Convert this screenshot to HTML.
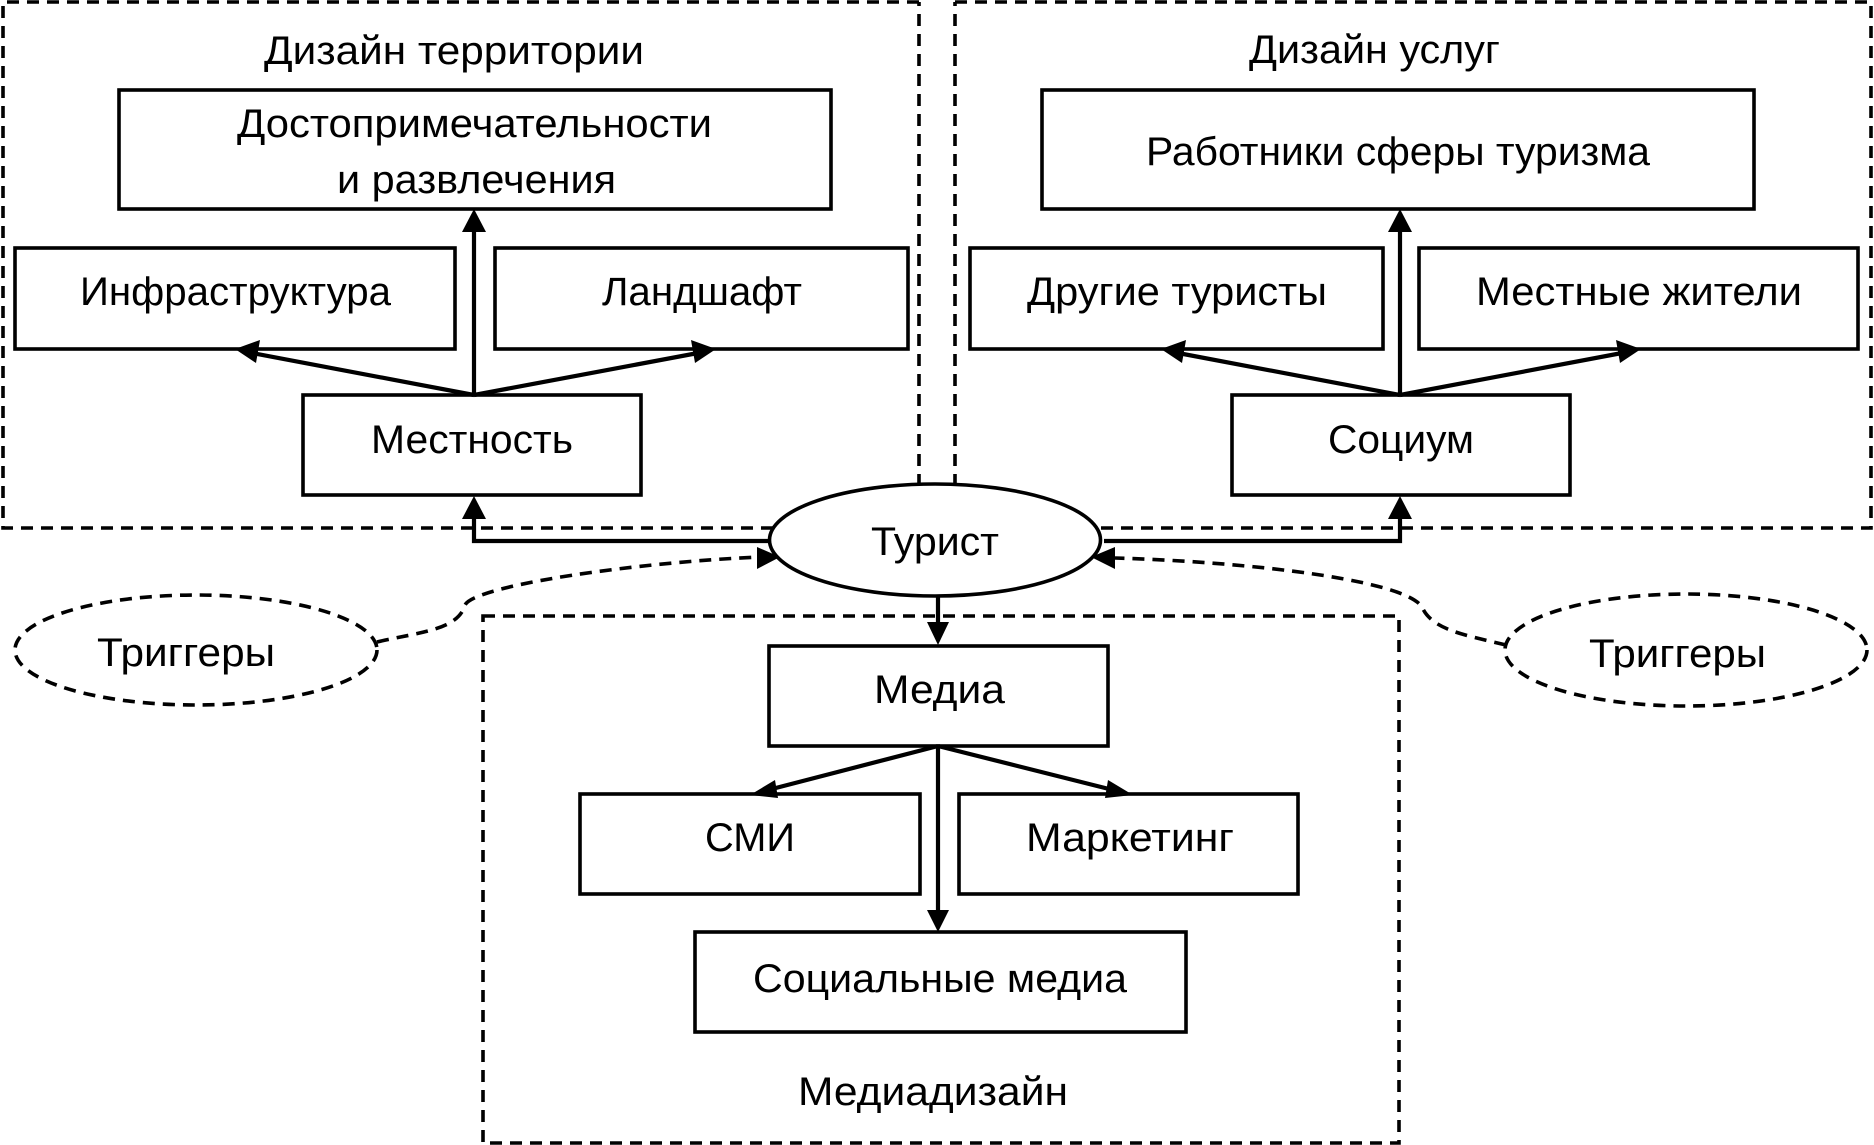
<!DOCTYPE html>
<html><head><meta charset="utf-8"><style>html,body{margin:0;padding:0;background:#fff}svg{display:block}text{font-family:"Liberation Sans",sans-serif;font-size:40px;fill:#000}</style></head>
<body>
<svg width="1874" height="1145" viewBox="0 0 1874 1145" xmlns="http://www.w3.org/2000/svg">
<g fill="none" stroke="#000" stroke-width="3.6" stroke-dasharray="12 8">
<path d="M919 2H3V528H919V2"/>
<path d="M955 2H1871V528H955V2"/>
<rect x="483" y="616" width="916" height="527"/>
<ellipse cx="196" cy="650" rx="181" ry="55"/>
<ellipse cx="1686" cy="650" rx="181" ry="56"/>
<path d="M377 642C420 632 458 630 465 605C475 585 640 562 760 557"/>
<path d="M1506 645C1465 635 1432 630 1422 607C1405 580 1250 562 1115 558"/>
</g>
<g fill="none" stroke="#000" stroke-width="3.6">
<rect x="119" y="90" width="712" height="119"/>
<rect x="15" y="248" width="440" height="101"/>
<rect x="495" y="248" width="413" height="101"/>
<rect x="303" y="395" width="338" height="100"/>
<rect x="1042" y="90" width="712" height="119"/>
<rect x="970" y="248" width="413" height="101"/>
<rect x="1419" y="248" width="439" height="101"/>
<rect x="1232" y="395" width="338" height="100"/>
<rect x="769" y="646" width="339" height="100"/>
<rect x="580" y="794" width="340" height="100"/>
<rect x="959" y="794" width="339" height="100"/>
<rect x="695" y="932" width="491" height="100"/>
<g stroke-width="4.2">
<path d="M474 395V230M474 395L252 353M474 395L698 353"/>
<path d="M1400 395V230M1400 395L1178 353M1400 395L1622 353"/>
<path d="M474 515V541H770M1400 515V541H1104"/>
<path d="M938 596V630M938 746V912M938 746L768 790M938 746L1113 790"/>
</g>
</g>
<g fill="#000">
<polygon points="474,209 462,232 486,232"/>
<polygon points="235,349 260,340 256,363"/>
<polygon points="716,349 691,340 695,363"/>
<polygon points="474,496 462,519 486,519"/>
<polygon points="1400,209 1388,232 1412,232"/>
<polygon points="1161,349 1186,340 1182,363"/>
<polygon points="1641,349 1616,340 1620,363"/>
<polygon points="1400,496 1388,519 1412,519"/>
<polygon points="938,645 927,622 949,622"/>
<polygon points="938,932 927,910 949,910"/>
<polygon points="750,795 775,780 778,798"/>
<polygon points="1133,795 1108,780 1105,798"/>
</g>
<ellipse cx="935" cy="540" rx="165.5" ry="56" fill="#fff" stroke="#000" stroke-width="3.6"/>
<polygon points="780,557 757,547 757,569" fill="#000"/>
<polygon points="1091,557 1115,547 1115,569" fill="#000"/>
<g>
<text x="264" y="64" textLength="380" lengthAdjust="spacingAndGlyphs">Дизайн территории</text>
<text x="237" y="137" textLength="475" lengthAdjust="spacingAndGlyphs">Достопримечательности</text>
<text x="337" y="193" textLength="279" lengthAdjust="spacingAndGlyphs">и развлечения</text>
<text x="80" y="305" textLength="311" lengthAdjust="spacingAndGlyphs">Инфраструктура</text>
<text x="602" y="305" textLength="200" lengthAdjust="spacingAndGlyphs">Ландшафт</text>
<text x="371" y="453" textLength="202" lengthAdjust="spacingAndGlyphs">Местность</text>
<text x="1249" y="63" textLength="251" lengthAdjust="spacingAndGlyphs">Дизайн услуг</text>
<text x="1146" y="165" textLength="504" lengthAdjust="spacingAndGlyphs">Работники сферы туризма</text>
<text x="1027" y="305" textLength="300" lengthAdjust="spacingAndGlyphs">Другие туристы</text>
<text x="1476" y="305" textLength="326" lengthAdjust="spacingAndGlyphs">Местные жители</text>
<text x="1328" y="453" textLength="146" lengthAdjust="spacingAndGlyphs">Социум</text>
<text x="871" y="555" textLength="128" lengthAdjust="spacingAndGlyphs">Турист</text>
<text x="97" y="666" textLength="178" lengthAdjust="spacingAndGlyphs">Триггеры</text>
<text x="1589" y="667" textLength="177" lengthAdjust="spacingAndGlyphs">Триггеры</text>
<text x="874" y="703" textLength="131" lengthAdjust="spacingAndGlyphs">Медиа</text>
<text x="705" y="851" textLength="90" lengthAdjust="spacingAndGlyphs">СМИ</text>
<text x="1026" y="851" textLength="208" lengthAdjust="spacingAndGlyphs">Маркетинг</text>
<text x="753" y="992" textLength="374" lengthAdjust="spacingAndGlyphs">Социальные медиа</text>
<text x="798" y="1105" textLength="270" lengthAdjust="spacingAndGlyphs">Медиадизайн</text>
</g>
</svg>
</body></html>
